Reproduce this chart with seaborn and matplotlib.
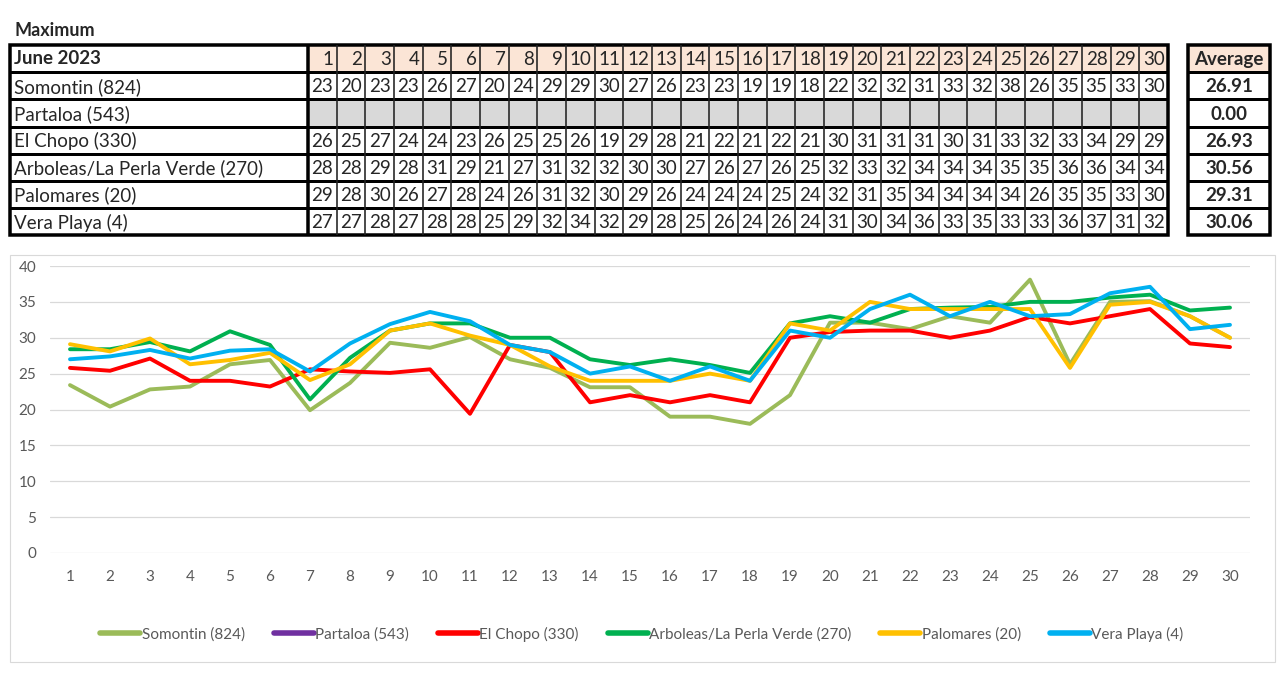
import matplotlib
matplotlib.use('Agg')
import matplotlib.pyplot as plt
from matplotlib.patches import Rectangle
from matplotlib.lines import Line2D
import seaborn as sns
import pandas as pd
import numpy as np

sns.set_style('white')
plt.rcParams['font.family'] = ['Lato', 'DejaVu Sans']

# daily maximum temperatures, June 2023
days = list(range(1, 31))
stations = ['Somontin (824)', 'Partaloa (543)', 'El Chopo (330)',
            'Arboleas/La Perla Verde (270)', 'Palomares (20)', 'Vera Playa (4)']

somontin = [23.4, 20.4, 22.8, 23.2, 26.3, 26.9, 19.9, 23.7, 29.3, 28.6,
            30.1, 27.0, 25.8, 23.1, 23.1, 19.0, 19.0, 18.0, 22.0, 32.1,
            32.1, 31.2, 33.0, 32.1, 38.1, 26.3, 35.0, 35.1, 33.0, 30.0]
partaloa = [np.nan] * 30
el_chopo = [25.8, 25.4, 27.1, 24.0, 24.0, 23.2, 25.6, 25.3, 25.1, 25.6,
            19.4, 29.0, 28.0, 21.0, 22.0, 21.0, 22.0, 21.0, 30.0, 30.8,
            31.0, 31.0, 30.0, 31.0, 32.9, 32.0, 33.0, 34.0, 29.2, 28.7]
arboleas = [28.4, 28.4, 29.4, 28.1, 30.9, 29.0, 21.4, 27.2, 31.0, 32.0,
            32.0, 30.0, 30.0, 27.0, 26.2, 27.0, 26.2, 25.1, 32.0, 33.0,
            32.1, 34.0, 34.2, 34.3, 35.0, 35.0, 35.6, 36.0, 33.8, 34.2]
palomares = [29.1, 28.1, 29.9, 26.3, 26.9, 27.9, 24.1, 26.3, 31.0, 32.0,
             30.3, 29.0, 26.0, 24.0, 24.0, 24.0, 25.0, 24.0, 32.0, 31.0,
             35.0, 34.0, 34.0, 34.0, 34.0, 25.8, 34.6, 35.0, 33.0, 30.0]
vera_playa = [27.0, 27.4, 28.3, 27.1, 28.2, 28.4, 25.3, 29.2, 31.9, 33.6,
              32.3, 29.0, 28.0, 25.0, 26.0, 24.0, 26.0, 24.0, 31.0, 30.0,
              34.0, 36.0, 33.0, 35.0, 33.0, 33.3, 36.2, 37.1, 31.2, 31.8]
averages = ['26.91', '0.00', '26.93', '30.56', '29.31', '30.06']

series = [somontin, partaloa, el_chopo, arboleas, palomares, vera_playa]
colors = ['#9BBB59', '#7030A0', '#FF0000', '#00B050', '#FFC000', '#00B0F0']
palette = dict(zip(stations, colors))

# long table for seaborn
rows = []
for name, vals in zip(stations, series):
    for d, v in zip(days, vals):
        rows.append({'day': d, 'temp': v, 'station': name})
df = pd.DataFrame(rows)

fig = plt.figure(figsize=(12.8, 6.86), dpi=100)

# background axes in pixel units for the table
bg = fig.add_axes([0, 0, 1, 1])
bg.set_xlim(0, 1280)
bg.set_ylim(686, 0)
bg.axis('off')

def px(p):
    return p * 72 / 100

FS = 13.5
bg.text(14, 30, 'Maximum', fontsize=13, fontweight='bold', va='center', ha='left')

x0, xl, x1 = 10, 308, 1168
cw = (x1 - xl) / 30
y0, rh = 45, 27.2
nrows = 7
ybot = y0 + nrows * rh

# header fills
for i in range(30):
    bg.add_patch(Rectangle((xl + i * cw, y0), cw, rh, facecolor='#FBE5D6', edgecolor='none'))
    bg.add_patch(Rectangle((xl + i * cw, y0 + 2 * rh), cw, rh, facecolor='#D9D9D9', edgecolor='none'))

# grid lines
for r in range(1, nrows):
    bg.plot([x0, x1], [y0 + r * rh] * 2, color='black', lw=px(3), solid_capstyle='butt')
for i in range(1, 30):
    bg.plot([xl + i * cw] * 2, [y0, ybot], color='#222222', lw=px(1.6), solid_capstyle='butt')
bg.plot([xl, xl], [y0, ybot], color='black', lw=px(3.5), solid_capstyle='butt')
bg.add_patch(Rectangle((x0, y0), x1 - x0, ybot - y0, facecolor='none', edgecolor='black', lw=px(3.5)))

bg.text(x0 + 4, y0 + rh / 2, 'June 2023', fontsize=FS, fontweight='bold', va='center', ha='left')
for i, d in enumerate(days):
    bg.text(xl + (i + 1) * cw - 3, y0 + rh / 2 + 1, str(d), fontsize=FS, va='center', ha='right')

for r, (name, vals) in enumerate(zip(stations, series)):
    yc = y0 + (r + 1.5) * rh + 1
    bg.text(x0 + 4, yc, name, fontsize=FS, va='center', ha='left')
    for i, v in enumerate(vals):
        if not np.isnan(v):
            bg.text(xl + (i + 0.5) * cw, yc, '%d' % round(v), fontsize=FS, va='center', ha='center')

# average table
ax0, ax1 = 1188, 1270
bg.add_patch(Rectangle((ax0, y0), ax1 - ax0, rh, facecolor='#FBE5D6', edgecolor='none'))
for r in range(1, nrows):
    bg.plot([ax0, ax1], [y0 + r * rh] * 2, color='black', lw=px(3), solid_capstyle='butt')
bg.add_patch(Rectangle((ax0, y0), ax1 - ax0, ybot - y0, facecolor='none', edgecolor='black', lw=px(3.5)))
bg.text((ax0 + ax1) / 2, y0 + rh / 2 + 1, 'Average', fontsize=FS, fontweight='bold', va='center', ha='center')
for r, a in enumerate(averages):
    bg.text((ax0 + ax1) / 2, y0 + (r + 1.5) * rh + 1, a, fontsize=FS, fontweight='bold', va='center', ha='center')

# chart frame
bg.add_patch(Rectangle((10, 255), 1265, 407, facecolor='none', edgecolor='#D9D9D9', lw=0.8))

# line chart
ax = fig.add_axes([50 / 1280, (686 - 553) / 686, 1200 / 1280, 287 / 686])
ax.set_facecolor('none')
sns.lineplot(data=df.dropna(), x='day', y='temp', hue='station', palette=palette,
             linewidth=2.8, ax=ax, legend=False, sort=False)
ax.set_xlim(0.5, 30.5)
ax.set_ylim(0, 40)
ax.set_yticks(range(0, 41, 5))
ax.set_xticks(days)
ax.set_xlabel('')
ax.set_ylabel('')
ax.grid(axis='y', color='#D9D9D9', lw=0.9)
ax.grid(axis='x', visible=False)
ax.set_axisbelow(True)
for s in ax.spines.values():
    s.set_visible(False)
ax.tick_params(axis='both', length=0, labelsize=11, colors='#595959')
ax.tick_params(axis='x', pad=12)
ax.tick_params(axis='y', pad=10)

handles = [Line2D([0], [0], color=c, lw=4) for c in colors]
leg = fig.legend(handles, stations, loc='center', bbox_to_anchor=(642 / 1280, 1 - 634 / 686),
                 ncol=6, frameon=False, fontsize=11, handlelength=2.6, handletextpad=0.1,
                 columnspacing=1.9)
for t in leg.get_texts():
    t.set_color('#595959')

fig.savefig('out.png', dpi=100)
